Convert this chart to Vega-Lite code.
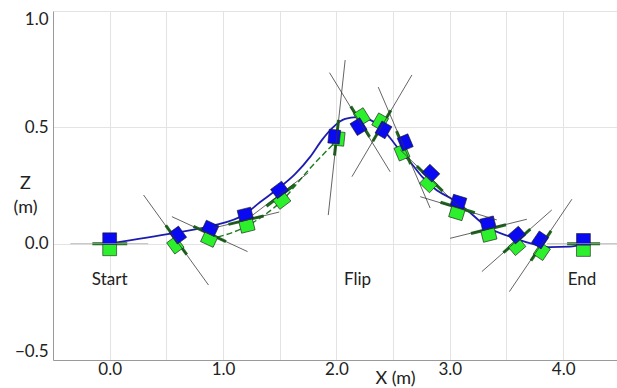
{
  "$schema": "https://vega.github.io/schema/vega-lite/v6.json",
  "width": 564,
  "height": 349,
  "autosize": {"type": "none"},
  "padding": {"left": 53, "top": 11, "right": 0, "bottom": 28},
  "background": "white",
  "config": {
    "view": {"stroke": null},
    "font": "Lato",
    "axis": {
      "gridColor": "#e3e3e3",
      "gridWidth": 1,
      "domainColor": "#9a9a9a",
      "domainWidth": 1,
      "ticks": false,
      "labelColor": "#222222",
      "labelFontSize": 17,
      "labelFont": "Lato",
      "titleFont": "Lato",
      "titleColor": "#222222",
      "titleFontSize": 18,
      "titleFontWeight": "normal"
    }
  },
  "datasets": {
    "path": [
      {"x": 0.0, "z": 0.0},
      {"x": 0.561, "z": 0.045},
      {"x": 0.887, "z": 0.075},
      {"x": 1.196, "z": 0.128},
      {"x": 1.328, "z": 0.179},
      {"x": 1.489, "z": 0.238},
      {"x": 1.637, "z": 0.300},
      {"x": 1.770, "z": 0.374},
      {"x": 1.873, "z": 0.446},
      {"x": 1.974, "z": 0.502},
      {"x": 2.077, "z": 0.536},
      {"x": 2.181, "z": 0.544},
      {"x": 2.298, "z": 0.532},
      {"x": 2.386, "z": 0.503},
      {"x": 2.474, "z": 0.454},
      {"x": 2.563, "z": 0.398},
      {"x": 2.651, "z": 0.351},
      {"x": 2.757, "z": 0.287},
      {"x": 2.871, "z": 0.235},
      {"x": 3.033, "z": 0.188},
      {"x": 3.151, "z": 0.145},
      {"x": 3.327, "z": 0.073},
      {"x": 3.533, "z": 0.030},
      {"x": 3.768, "z": -0.006},
      {"x": 3.885, "z": -0.015},
      {"x": 4.062, "z": -0.013},
      {"x": 4.179, "z": 0.0}
    ],
    "lowerPath": [
      {"x": 0.878, "z": 0.019},
      {"x": 1.211, "z": 0.076},
      {"x": 1.519, "z": 0.185},
      {"x": 1.760, "z": 0.320},
      {"x": 2.020, "z": 0.451}
    ],
    "poses": [
      {"pose": 1, "x1": -0.347, "z1": 0.0, "x2": 0.340, "z2": 0.0, "ax1": -0.153, "az1": 0.0, "ax2": 0.155, "az2": 0.0},
      {"pose": 2, "x1": 0.299, "z1": 0.209, "x2": 0.872, "z2": -0.178, "ax1": 0.495, "az1": 0.079, "ax2": 0.680, "az2": -0.047},
      {"pose": 3, "x1": 0.549, "z1": 0.116, "x2": 1.216, "z2": -0.034, "ax1": 0.739, "az1": 0.074, "ax2": 1.026, "az2": 0.009},
      {"pose": 4, "x1": 0.914, "z1": 0.067, "x2": 1.496, "z2": 0.136, "ax1": 1.048, "az1": 0.083, "ax2": 1.357, "az2": 0.119},
      {"pose": 5, "x1": 1.240, "z1": 0.115, "x2": 1.751, "z2": 0.304, "ax1": 1.383, "az1": 0.161, "ax2": 1.635, "az2": 0.254},
      {"pose": 6, "x1": 1.928, "z1": 0.123, "x2": 2.077, "z2": 0.789, "ax1": 1.983, "az1": 0.379, "ax2": 2.019, "az2": 0.532},
      {"pose": 7, "x1": 1.939, "z1": 0.735, "x2": 2.474, "z2": 0.309, "ax1": 2.127, "az1": 0.590, "ax2": 2.293, "az2": 0.459},
      {"pose": 8, "x1": 2.137, "z1": 0.288, "x2": 2.666, "z2": 0.725, "ax1": 2.321, "az1": 0.440, "ax2": 2.481, "az2": 0.573},
      {"pose": 9, "x1": 2.369, "z1": 0.673, "x2": 2.827, "z2": 0.153, "ax1": 2.530, "az1": 0.484, "ax2": 2.655, "az2": 0.342},
      {"pose": 10, "x1": 2.563, "z1": 0.403, "x2": 3.083, "z2": 0.158, "ax1": 2.709, "az1": 0.333, "ax2": 2.937, "az2": 0.226},
      {"pose": 11, "x1": 2.739, "z1": 0.202, "x2": 3.415, "z2": 0.102, "ax1": 2.918, "az1": 0.178, "ax2": 3.221, "az2": 0.133},
      {"pose": 12, "x1": 3.003, "z1": 0.023, "x2": 3.680, "z2": 0.105, "ax1": 3.187, "az1": 0.044, "ax2": 3.496, "az2": 0.081},
      {"pose": 13, "x1": 3.283, "z1": -0.120, "x2": 3.900, "z2": 0.145, "ax1": 3.473, "az1": -0.039, "ax2": 3.711, "az2": 0.063},
      {"pose": 14, "x1": 3.526, "z1": -0.206, "x2": 4.077, "z2": 0.191, "ax1": 3.716, "az1": -0.073, "ax2": 3.894, "az2": 0.055},
      {"pose": 15, "x1": 3.859, "z1": 0.0, "x2": 4.475, "z2": 0.0, "ax1": 4.035, "az1": 0.0, "ax2": 4.326, "az2": 0.0}
    ],
    "bodies": [
      {"pose": 1, "part": "bottom", "x": 0.0, "z": -0.027, "angle": 0},
      {"pose": 1, "part": "top", "x": 0.0, "z": 0.022, "angle": 0},
      {"pose": 2, "part": "bottom", "x": 0.579, "z": -0.006, "angle": 54},
      {"pose": 2, "part": "top", "x": 0.602, "z": 0.037, "angle": 54},
      {"pose": 3, "part": "bottom", "x": 0.878, "z": 0.019, "angle": 25},
      {"pose": 3, "part": "top", "x": 0.887, "z": 0.066, "angle": 25},
      {"pose": 4, "part": "bottom", "x": 1.211, "z": 0.076, "angle": -14},
      {"pose": 4, "part": "top", "x": 1.196, "z": 0.126, "angle": -14},
      {"pose": 5, "part": "bottom", "x": 1.519, "z": 0.185, "angle": -37},
      {"pose": 5, "part": "top", "x": 1.498, "z": 0.231, "angle": -37},
      {"pose": 6, "part": "bottom", "x": 2.020, "z": 0.451, "angle": -84},
      {"pose": 6, "part": "top", "x": 1.981, "z": 0.460, "angle": -84},
      {"pose": 7, "part": "bottom", "x": 2.225, "z": 0.546, "angle": 58},
      {"pose": 7, "part": "top", "x": 2.195, "z": 0.503, "angle": 58},
      {"pose": 8, "part": "bottom", "x": 2.386, "z": 0.524, "angle": -60},
      {"pose": 8, "part": "top", "x": 2.415, "z": 0.489, "angle": -60},
      {"pose": 9, "part": "bottom", "x": 2.578, "z": 0.392, "angle": 67},
      {"pose": 9, "part": "top", "x": 2.607, "z": 0.435, "angle": 67},
      {"pose": 10, "part": "bottom", "x": 2.812, "z": 0.257, "angle": 44},
      {"pose": 10, "part": "top", "x": 2.833, "z": 0.303, "angle": 44},
      {"pose": 11, "part": "bottom", "x": 3.063, "z": 0.131, "angle": 17},
      {"pose": 11, "part": "top", "x": 3.077, "z": 0.180, "angle": 17},
      {"pose": 12, "part": "bottom", "x": 3.345, "z": 0.037, "angle": -14},
      {"pose": 12, "part": "top", "x": 3.337, "z": 0.088, "angle": -14},
      {"pose": 13, "part": "bottom", "x": 3.592, "z": -0.013, "angle": -41},
      {"pose": 13, "part": "top", "x": 3.592, "z": 0.037, "angle": -41},
      {"pose": 14, "part": "bottom", "x": 3.812, "z": -0.034, "angle": -56},
      {"pose": 14, "part": "top", "x": 3.797, "z": 0.016, "angle": -56},
      {"pose": 15, "part": "bottom", "x": 4.179, "z": -0.030, "angle": 0},
      {"pose": 15, "part": "top", "x": 4.179, "z": 0.019, "angle": 0}
    ],
    "labels": [
      {"x": 0.0, "z": -0.156, "text": "Start"},
      {"x": 2.186, "z": -0.156, "text": "Flip"},
      {"x": 4.167, "z": -0.156, "text": "End"}
    ]
  },
  "layer": [
    {
      "data": {"name": "path"},
      "mark": {"type": "line", "color": "#1c1cb0", "strokeWidth": 1.8, "interpolate": "monotone", "clip": true},
      "encoding": {
        "x": {
          "field": "x", "type": "quantitative", "title": "X (m)",
          "scale": {"domain": [-0.5, 4.475], "nice": false, "zero": false},
          "axis": {
            "values": [0, 0.5, 1, 1.5, 2, 2.5, 3, 3.5, 4],
            "labelExpr": "datum.value % 1 === 0 ? format(datum.value, '.1f') : ''",
            "labelPadding": 1,
            "titleX": 342,
            "titleY": 18,
            "titleAlign": "center",
            "titleBaseline": "middle"
          }
        },
        "y": {
          "field": "z", "type": "quantitative", "title": ["Z", "(m)"],
          "scale": {"domain": [-0.5, 1.0], "nice": false, "zero": false},
          "axis": {
            "values": [-0.5, 0, 0.5, 1.0],
            "format": ".1f",
            "labelFlush": true,
            "labelPadding": 5,
            "titleAngle": 0,
            "titleX": -28,
            "titleY": 172,
            "titleAlign": "center",
            "titleBaseline": "middle",
            "titleLineHeight": 24
          }
        }
      }
    },
    {
      "data": {"name": "lowerPath"},
      "mark": {"type": "line", "color": "#1f7a1f", "strokeWidth": 1.4, "strokeDash": [6, 3], "interpolate": "monotone", "clip": true},
      "encoding": {
        "x": {"field": "x", "type": "quantitative", "title": "X (m)"},
        "y": {"field": "z", "type": "quantitative", "title": ["Z", "(m)"]}
      }
    },
    {
      "data": {"name": "poses"},
      "mark": {"type": "rule", "color": "#1a6e1a", "strokeWidth": 3, "clip": true},
      "encoding": {
        "x": {"field": "ax1", "type": "quantitative", "title": "X (m)"},
        "y": {"field": "az1", "type": "quantitative", "title": ["Z", "(m)"]},
        "x2": {"field": "ax2"},
        "y2": {"field": "az2"}
      }
    },
    {
      "data": {"name": "bodies"},
      "mark": {
        "type": "point",
        "shape": "M-1.15,-0.95L1.15,-0.95L1.15,0.95L-1.15,0.95Z",
        "size": 145,
        "filled": true,
        "opacity": 1,
        "stroke": "#1b1b1b",
        "strokeWidth": 0.6,
        "clip": true
      },
      "encoding": {
        "x": {"field": "x", "type": "quantitative", "title": "X (m)"},
        "y": {"field": "z", "type": "quantitative", "title": ["Z", "(m)"]},
        "angle": {"field": "angle", "type": "quantitative", "scale": null},
        "fill": {
          "field": "part", "type": "nominal",
          "scale": {"domain": ["top", "bottom"], "range": ["#0a0af2", "#2cf02c"]},
          "legend": null
        }
      }
    },
    {
      "data": {"name": "poses"},
      "mark": {"type": "rule", "strokeWidth": 0.9, "opacity": 0.85, "clip": true},
      "encoding": {
        "x": {"field": "x1", "type": "quantitative", "title": "X (m)"},
        "y": {"field": "z1", "type": "quantitative", "title": ["Z", "(m)"]},
        "x2": {"field": "x2"},
        "y2": {"field": "z2"},
        "color": {
          "condition": {"test": "datum.z1 === datum.z2", "value": "#a8a8a8"},
          "value": "#333333"
        }
      }
    },
    {
      "data": {"name": "labels"},
      "mark": {"type": "text", "font": "Lato", "fontSize": 17, "color": "#222222", "align": "center", "baseline": "middle"},
      "encoding": {
        "x": {"field": "x", "type": "quantitative", "title": "X (m)"},
        "y": {"field": "z", "type": "quantitative", "title": ["Z", "(m)"]},
        "text": {"field": "text"}
      }
    }
  ]
}
